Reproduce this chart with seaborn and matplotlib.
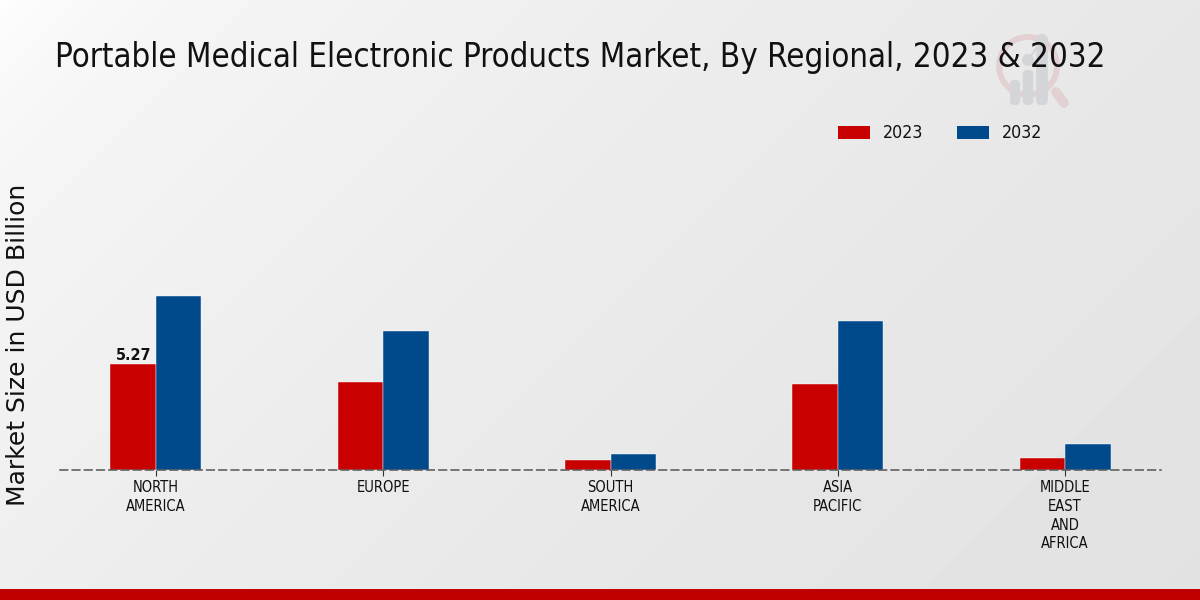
import numpy as np
import pandas as pd
import matplotlib.pyplot as plt
import seaborn as sns
from matplotlib.patches import Rectangle, Wedge, FancyBboxPatch, Circle

regions = ["NORTH\nAMERICA", "EUROPE", "SOUTH\nAMERICA", "ASIA\nPACIFIC", "MIDDLE\nEAST\nAND\nAFRICA"]
values_2023 = [5.27, 4.37, 0.5, 4.27, 0.62]
values_2032 = [8.67, 6.92, 0.8, 7.42, 1.27]
years = ["2023", "2032"]
colors = ["#C80000", "#004A8C"]

sns.set_style("white")
plt.rcParams["font.family"] = ["DejaVu Sans"]

df = pd.DataFrame({
    "region": regions * 2,
    "year": [years[0]] * 5 + [years[1]] * 5,
    "value": values_2023 + values_2032,
})

fig = plt.figure(figsize=(12, 6), dpi=100)

# background, pixel coords
bg = fig.add_axes([0, 0, 1, 1], zorder=0)
xx, yy = np.meshgrid(np.linspace(0, 1, 600), np.linspace(0, 1, 300))
shade = 1 - 0.115 * ((xx * 2 + yy) / 3) ** 0.5
bg.imshow(shade, extent=[0, 1200, 600, 0], cmap="gray", vmin=0, vmax=1, aspect="auto")
bg.set_xlim(0, 1200)
bg.set_ylim(600, 0)
bg.axis("off")
bg.add_patch(Rectangle((0, 589), 1200, 11, color="#C00000", lw=0))

# watermark
pink = "#E3D0D3"
grey = "#D3D5D8"
bg.add_patch(Wedge((1028, 66), 32, 0, 360, width=6, color=pink, lw=0))
bg.plot([1056, 1064], [92, 103], color=pink, lw=7, solid_capstyle="round")
for x, top, w in [(1015, 80, 10), (1028, 70, 10.5), (1042, 40, 11.5)]:
    bg.add_patch(FancyBboxPatch((x - w / 2, top), w, 105 - top, boxstyle="round,pad=0,rounding_size=4.5",
                                color=grey, lw=0))
bg.add_patch(Circle((1028, 60), 6, color=grey, lw=0))
bg.add_patch(Circle((1042, 40), 6, color=grey, lw=0))
bg.plot([1028, 1042], [60, 40], color=grey, lw=1.5)

ax = fig.add_axes([60.5 / 1200, 1 - 470 / 600, 1100 / 1200, 360 / 600], zorder=1)
ax.patch.set_alpha(0)
sns.barplot(data=df, x="region", y="value", hue="year", palette=colors, width=0.4,
            edgecolor="white", linewidth=0.3, saturation=1, legend=False, ax=ax)
ax.set_xlim(-0.42, 4.42)
ax.set_ylim(0, 360 / 20.1)
ax.set_xlabel("")
ax.set_ylabel("Market Size in USD Billion", fontsize=18, color="#111111")
ax.yaxis.set_label_coords(-0.0275, 0.347)
ax.set_yticks([])
sns.despine(ax=ax, left=True)
ax.spines["bottom"].set_linestyle((0, (5, 3)))
ax.spines["bottom"].set_color("#555555")
ax.spines["bottom"].set_linewidth(1.1)
ax.tick_params(axis="x", length=4, width=0.8, color="#333333", pad=3.5, bottom=True)
plt.setp(ax.get_xticklabels(), fontsize=10.5, stretch="condensed", color="#111111", linespacing=1.3)

ax.bar_label(ax.containers[0], labels=["5.27", "", "", "", ""], fontsize=11.5, fontweight="bold",
             stretch="condensed", color="#111111", padding=0.5)

fig.text(55 / 1200, 1 - 58 / 600, "Portable Medical Electronic Products Market, By Regional, 2023 & 2032",
         fontsize=23.65, stretch="condensed", color="#111111", va="center", ha="left")

# legend
for x, label, c in zip([838, 957], years, colors):
    bg.add_patch(Rectangle((x, 126), 32, 13, color=c, lw=0))
    bg.text(x + 45, 133, label, fontsize=12.8, stretch="condensed", color="#111111", va="center", ha="left")

fig.savefig("out.png", dpi=100)
